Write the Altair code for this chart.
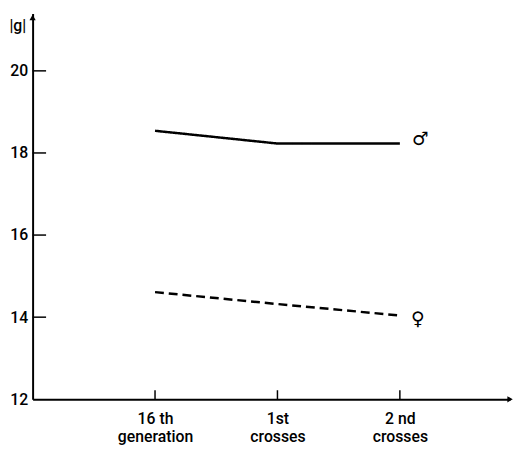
import altair as alt
import pandas as pd

# Data
stages = [1, 2, 3]
stage_labels = [["16 th", "generation"], ["1st", "crosses"], ["2 nd", "crosses"]]
male = [18.54, 18.23, 18.23]
female = [14.61, 14.32, 14.04]
y_ticks = [12, 14, 16, 18, 20]

FONT = "Roboto"

df = pd.DataFrame({
    "stage": stages * 2,
    "value": male + female,
    "sex": ["male"] * 3 + ["female"] * 3,
})

label_expr = " : ".join(
    f"datum.value == {s} ? {lab!r}" for s, lab in zip(stages, stage_labels)
) + " : ''"

xscale = alt.Scale(domain=[0, 3.9], nice=False, zero=False)
yscale = alt.Scale(domain=[12, 21.4], nice=False, zero=False)

x_axis = alt.Axis(
    values=stages, labelExpr=label_expr, ticks=False, grid=False,
    domainColor="black", domainWidth=2, labelFont=FONT, labelFontSize=16,
    labelFontWeight=500, labelColor="black", labelPadding=12, labelLineHeight=18,
    title=None,
)
y_axis = alt.Axis(
    values=y_ticks, ticks=False, grid=False, domainColor="black", domainWidth=2,
    labelFont=FONT, labelFontSize=16, labelFontWeight=500, labelColor="black",
    labelPadding=5,
    title="|g|", titleAngle=0, titleX=-7, titleY=17, titleAlign="right",
    titleBaseline="alphabetic", titleFont=FONT, titleFontSize=16,
    titleFontWeight=500, titleColor="black",
)

base = alt.Chart(df)

lines = base.mark_line(color="black", strokeWidth=2.5).encode(
    x=alt.X("stage:Q", scale=xscale, axis=x_axis),
    y=alt.Y("value:Q", scale=yscale, axis=y_axis),
    strokeDash=alt.StrokeDash(
        "sex:N",
        scale=alt.Scale(domain=["male", "female"], range=[[1, 0], [9, 5]]),
        legend=None,
    ),
    detail="sex:N",
)

# inner y ticks
yt = pd.DataFrame({"v": y_ticks[1:], "x0": [0.0] * 4, "x1": [0.11] * 4})
ytick = alt.Chart(yt).mark_rule(color="black", strokeWidth=1.5).encode(
    x=alt.X("x0:Q", scale=xscale), x2="x1:Q", y=alt.Y("v:Q", scale=yscale)
)
# x ticks upward
xt = pd.DataFrame({"s": stages, "y0": [12.0] * 3, "y1": [12.22] * 3})
xtick = alt.Chart(xt).mark_rule(color="black", strokeWidth=1.5).encode(
    x=alt.X("s:Q", scale=xscale), y=alt.Y("y0:Q", scale=yscale), y2="y1:Q"
)

# arrowheads
arr = pd.DataFrame({"x": [0, 3.9], "y": [21.3, 12], "shape": ["triangle-up", "triangle-right"]})
arrows = alt.Chart(arr).mark_point(filled=True, color="black", size=40, opacity=1).encode(
    x=alt.X("x:Q", scale=xscale), y=alt.Y("y:Q", scale=yscale),
    shape=alt.Shape("shape:N", scale=None),
)

# sex symbols
sym = pd.DataFrame({"x": [3.1, 3.09], "y": [male[-1] + 0.1, female[-1] - 0.08], "t": ["♂", "♀"]})
symbols = alt.Chart(sym).mark_text(
    align="left", baseline="middle", fontSize=19, color="black", font="DejaVu Sans"
).encode(x=alt.X("x:Q", scale=xscale), y=alt.Y("y:Q", scale=yscale), text="t:N")

chart = alt.layer(lines, ytick, xtick, arrows, symbols).properties(
    width=485, height=392,
    autosize=alt.AutoSizeParams(type="none"),
    padding={"left": 25, "top": 2, "right": 3, "bottom": 44},
).configure_view(stroke=None)

chart.save("out.html", embed_options={"renderer": "svg", "actions": False})
